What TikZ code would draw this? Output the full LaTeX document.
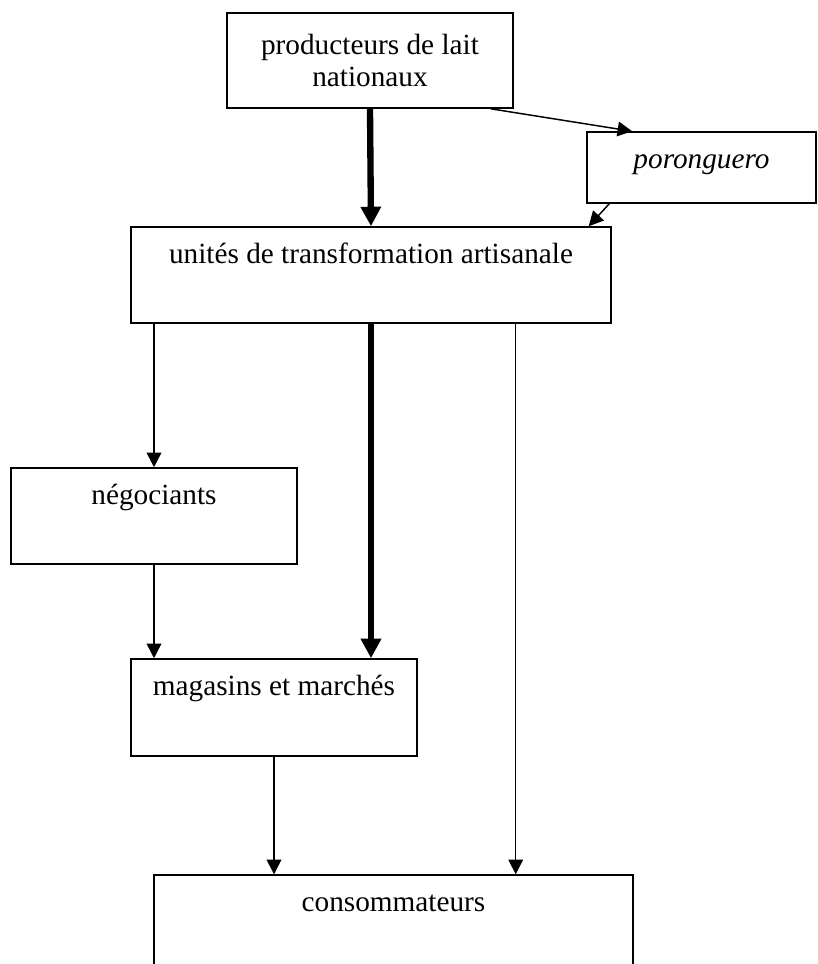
\documentclass[tikz,border=0pt]{standalone}
\usepackage{fontspec}
\setmainfont{Liberation Serif}
\usetikzlibrary{arrows.meta,calc}

\tikzset{
    box/.style={draw, line width=0.6pt, inner sep=0pt, text height=15pt,
        font=\fontsize{12}{11.8}\selectfont},
    fin/.style={-{Triangle[length=6pt,width=6pt]}, line width=0.6pt},
    gros/.style={-{Triangle[length=8pt,width=8pt]}, line width=2.6pt},
}

\begin{document}
\begin{tikzpicture}[x=0.41pt, y=-0.41pt]
        % Page frame
        \useasboundingbox (0,0) rectangle (818,964);

        % Boxes
        \node[draw, line width=0.6pt, inner sep=0pt, align=center,
            font=\fontsize{12}{12.8}\selectfont,
            minimum width=117.3pt, minimum height=39pt] (prod) at (370,60.5)
            {producteurs de lait\\nationaux};
        \node[box, text depth=14.1pt, minimum width=93.9pt] (poro) at (701.5,167.5)
            {\itshape poronguero};
        \node[box, text depth=24.4pt, minimum width=196.8pt] (unites) at (371,275)
            {unités de transformation artisanale};
        \node[box, text depth=24.4pt, minimum width=117.3pt] (nego) at (154,516)
            {négociants};
        \node[box, text depth=24.8pt, minimum width=117.3pt] (maga) at (274,707.5)
            {magasins et marchés};
        \node[box, text depth=26pt, minimum width=196.4pt] (conso) at (393.5,925)
            {consommateurs};

        % Main flow
        \draw[gros] (prod.south) -- (unites.north);
        \draw[gros] (unites.south) -- (unites.south |- maga.north);

        % Side flows
        \draw[fin] ($(prod.south east)+(-23,0)$) -- ($(poro.north west)+(46,0)$);
        \draw[fin] ($(poro.south west)+(23,0)$) -- ($(unites.north east)+(-23,0)$);
        \draw[fin] (nego.north |- unites.south) -- (nego.north);
        \draw[fin] (nego.south) -- (nego.south |- maga.north);
        \draw[fin] (maga.south) -- (maga.south |- conso.north);
        \coordinate (direct) at ($(unites.south east)+(-96,0)$);
        \draw[fin] (direct) -- (direct |- conso.north);
    \end{tikzpicture}
\end{document}
